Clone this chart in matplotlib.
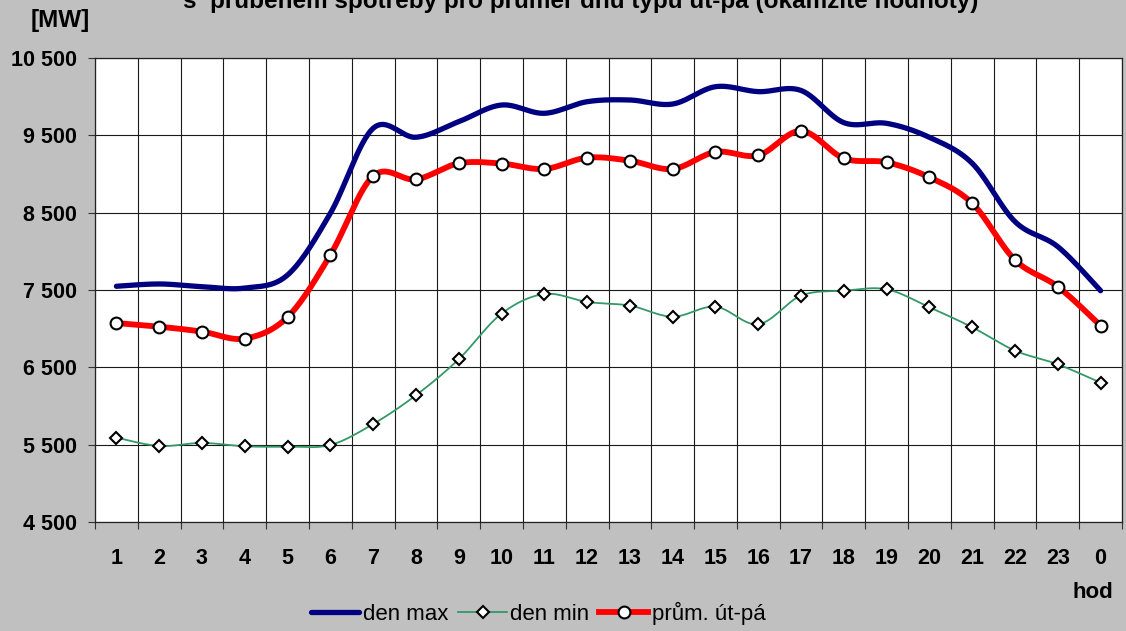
import numpy as np
import matplotlib
matplotlib.use("Agg")
import matplotlib.pyplot as plt
from matplotlib.ticker import FixedLocator, NullFormatter

plt.rcParams['font.family'] = ['Liberation Sans', 'DejaVu Sans']

hours = ['1', '2', '3', '4', '5', '6', '7', '8', '9', '10', '11', '12',
         '13', '14', '15', '16', '17', '18', '19', '20', '21', '22', '23', '0']

den_max = [7548, 7578, 7543, 7525, 7694, 8492, 9591, 9475, 9677, 9892, 9785, 9935,
           9957, 9905, 10129, 10065, 10080, 9664, 9655, 9474, 9138, 8384, 8060, 7491]

den_min = [5591, 5483, 5522, 5479, 5474, 5496, 5767, 6139, 6605, 7194, 7448, 7345,
           7298, 7155, 7284, 7057, 7427, 7491, 7509, 7276, 7018, 6716, 6539, 6302]

prum = [7073, 7026, 6962, 6872, 7150, 7953, 8974, 8930, 9138, 9135, 9065, 9211,
        9172, 9065, 9285, 9242, 9558, 9203, 9151, 8957, 8621, 7888, 7543, 7039]

y_ticks = [4500, 5500, 6500, 7500, 8500, 9500, 10500]
y_labels = ['4 500', '5 500', '6 500', '7 500', '8 500', '9 500', '10 500']

title = 's  průběhem spotřeby pro průměr dnů typu út-pá (okamžité hodnoty)'


def smooth(yv, n=30):
    """Excel-like smoothed line (Catmull-Rom / Bezier) through the points."""
    P = np.column_stack([np.arange(len(yv), dtype=float), np.asarray(yv, float)])
    out = []
    t = np.linspace(0, 1, n)[:, None]
    for i in range(len(P) - 1):
        p0 = P[i - 1] if i > 0 else P[i]
        p1 = P[i]
        p2 = P[i + 1]
        p3 = P[i + 2] if i + 2 < len(P) else P[i + 1]
        c1 = p1 + (p2 - p0) / 6.0
        c2 = p2 - (p3 - p1) / 6.0
        seg = ((1 - t) ** 3) * p1 + 3 * ((1 - t) ** 2) * t * c1 + 3 * (1 - t) * t ** 2 * c2 + t ** 3 * p2
        out.append(seg if i == 0 else seg[1:])
    S = np.vstack(out)
    return S[:, 0], S[:, 1]


bg = '#C0C0C0'
fig = plt.figure(figsize=(11.26, 6.31), dpi=100, facecolor=bg)
ax = fig.add_axes([95 / 1126, 109 / 631, 1027 / 1126, 464 / 631])
ax.set_facecolor('white')

x = np.arange(len(hours))

# den max
sx, sy = smooth(den_max)
ax.plot(sx, sy, color='#000080', lw=3.8, solid_capstyle='round', zorder=3)
# den min
sx, sy = smooth(den_min)
ax.plot(sx, sy, color='#339966', lw=1.3, zorder=3)
ax.plot(x, den_min, ls='none', marker='D', ms=6.5, mfc='white', mec='black', mew=1.5, zorder=4)
# prum
sx, sy = smooth(prum)
ax.plot(sx, sy, color='#FF0000', lw=4.2, solid_capstyle='round', zorder=3)
ax.plot(x, prum, ls='none', marker='o', ms=8.5, mfc='white', mec='black', mew=1.5, zorder=4)

ax.set_xlim(-0.5, len(hours) - 0.5)
ax.set_ylim(4500, 10500)

tick_fs = 15.5

# y axis
ax.set_yticks(y_ticks)
ax.set_yticklabels(y_labels, fontsize=tick_fs, fontweight='bold')
ax.tick_params(axis='y', direction='out', length=5, width=0.8, pad=8, color='#333333')

# x axis: gridlines/ticks at category boundaries, labels at centres
bounds = np.arange(-0.5, len(hours), 1.0)
ax.xaxis.set_major_locator(FixedLocator(bounds))
ax.xaxis.set_major_formatter(NullFormatter())
ax.xaxis.set_minor_locator(FixedLocator(x))
ax.set_xticklabels(hours, minor=True, fontsize=tick_fs, fontweight='bold')
ax.tick_params(axis='x', which='major', direction='out', length=5, width=0.8, color='#333333')
ax.tick_params(axis='x', which='minor', length=0, pad=19)

ax.grid(True, which='major', color='#1a1a1a', lw=0.8)
ax.set_axisbelow(True)
for s in ax.spines.values():
    s.set_color('#222222')
    s.set_linewidth(0.9)

# legend
handles = [
    plt.Line2D([], [], color='#000080', lw=3.8, solid_capstyle='round'),
    plt.Line2D([], [], color='#339966', lw=1.3, marker='D', ms=6.5, mfc='white', mec='black', mew=1.5),
    plt.Line2D([], [], color='#FF0000', lw=4.2, marker='o', ms=8.5, mfc='white', mec='black', mew=1.5),
]
leg = fig.legend(handles, ['den max', 'den min', 'prům. út-pá'], ncol=3, frameon=False,
                 loc='center', bbox_to_anchor=(538 / 1126, 1 - 613 / 631),
                 fontsize=16, handlelength=2.2, handletextpad=0.15, columnspacing=0.45,
                 borderaxespad=0, borderpad=0)

fig.text(60 / 1126, 1 - 21 / 631, '[MW]', fontsize=17.5, fontweight='bold', ha='center', va='center')
fig.text(1093 / 1126, 1 - 593 / 631, 'hod', fontsize=16, fontweight='bold', ha='center', va='center')
fig.text(581 / 1126, 1 - 8 / 631, title, fontsize=17.5, fontweight='bold', ha='center', va='baseline')

fig.savefig('out.png', dpi=100, facecolor=bg)
